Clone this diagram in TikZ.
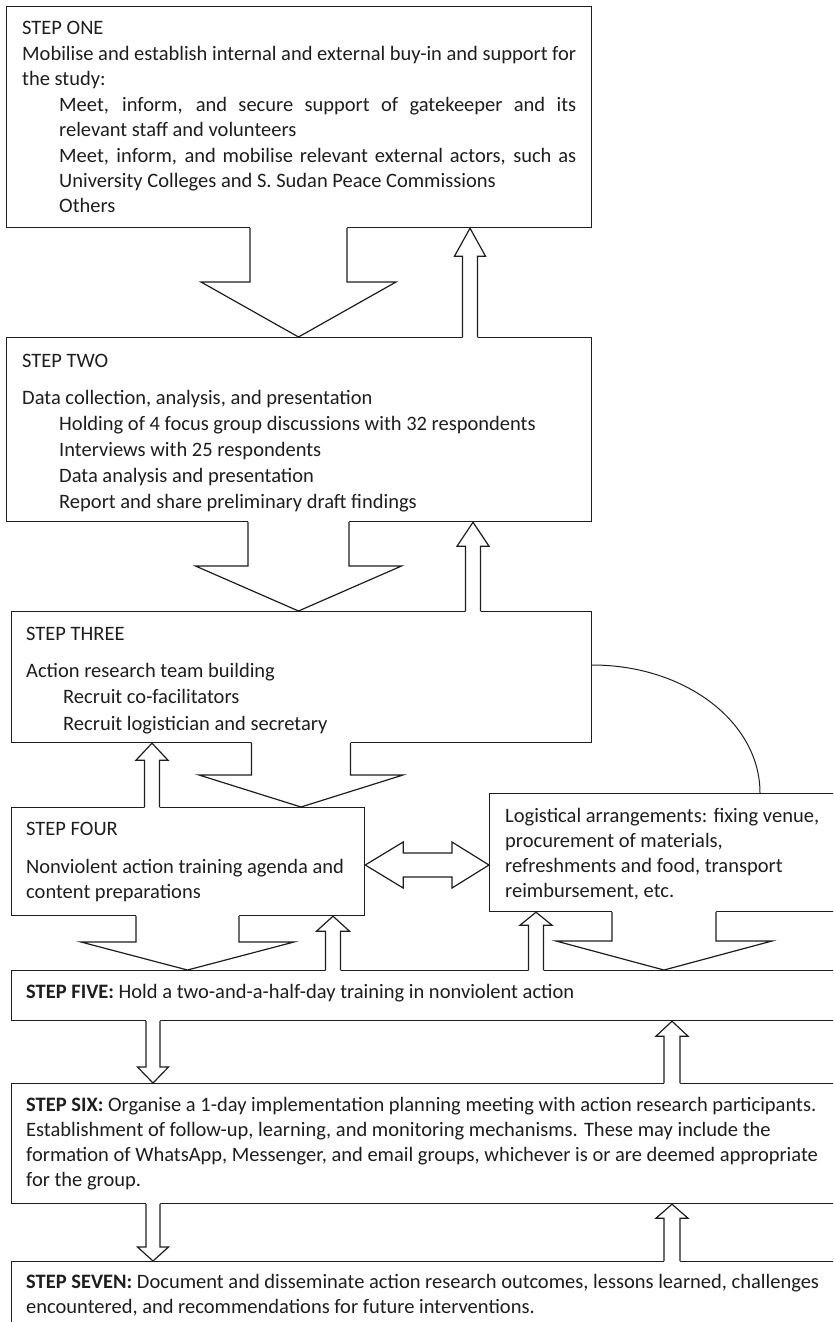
\documentclass[tikz,border=0pt]{standalone}
\usepackage{fontspec}
\setmainfont{Carlito}
\usetikzlibrary{calc}
\definecolor{ink}{RGB}{30,30,30}
\tikzset{
  box/.style={draw=ink, line width=1.2pt, inner sep=0pt, anchor=north west},
  blk/.style={draw=ink, line width=1.2pt, line join=miter},
  txt/.style={inner sep=0pt, anchor=base west, text=ink},
  link/.style={draw=ink, line width=1pt},
}
% text block: width, baselineskip, content
\newcommand\tb[3]{\parbox[t]{#1}{\fontsize{20.5pt}{#2}\selectfont #3}}
\newcommand\ind{\hspace*{37pt}}
% downward block arrow: tail anchor, tip anchor, x, shaft half, head half, head length
\newcommand\dblk[6]{%
  \fill[white] let \p1=(#1), \p2=(#2) in
    (#3pt-#4pt,\y1+1pt) -- (#3pt-#4pt,\y2+#6pt) -- (#3pt-#5pt,\y2+#6pt) -- (#3pt,\y2)
    -- (#3pt+#5pt,\y2+#6pt) -- (#3pt+#4pt,\y2+#6pt) -- (#3pt+#4pt,\y1+1pt) -- cycle;
  \draw[blk] let \p1=(#1), \p2=(#2) in
    (#3pt-#4pt,\y1) -- (#3pt-#4pt,\y2+#6pt) -- (#3pt-#5pt,\y2+#6pt) -- (#3pt,\y2)
    -- (#3pt+#5pt,\y2+#6pt) -- (#3pt+#4pt,\y2+#6pt) -- (#3pt+#4pt,\y1);}
% upward block arrow
\newcommand\ublk[6]{%
  \fill[white] let \p1=(#1), \p2=(#2) in
    (#3pt-#4pt,\y1-1pt) -- (#3pt-#4pt,\y2-#6pt) -- (#3pt-#5pt,\y2-#6pt) -- (#3pt,\y2)
    -- (#3pt+#5pt,\y2-#6pt) -- (#3pt+#4pt,\y2-#6pt) -- (#3pt+#4pt,\y1-1pt) -- cycle;
  \draw[blk] let \p1=(#1), \p2=(#2) in
    (#3pt-#4pt,\y1) -- (#3pt-#4pt,\y2-#6pt) -- (#3pt-#5pt,\y2-#6pt) -- (#3pt,\y2)
    -- (#3pt+#5pt,\y2-#6pt) -- (#3pt+#4pt,\y2-#6pt) -- (#3pt+#4pt,\y1);}
\begin{document}
\begin{tikzpicture}[x=1pt,y=-1pt]
\useasboundingbox[fill=white] (0,0) rectangle (833,1322);
\clip (0,0) rectangle (833,1322);

% boxes
\node[box, minimum width=585pt, minimum height=221pt] (b1) at (6,6) {};
\node[box, minimum width=585pt, minimum height=184pt] (b2) at (6,337) {};
\node[box, minimum width=580pt, minimum height=131pt] (b3) at (11,611) {};
\node[box, minimum width=353pt, minimum height=108pt] (b4) at (11,807) {};
\node[box, minimum width=360pt, minimum height=118pt] (blog) at (489,793) {};
\node[box, minimum width=840pt, minimum height=50pt] (b5) at (11,970) {};
\node[box, minimum width=840pt, minimum height=120pt] (b6) at (11,1083) {};
\node[box, minimum width=840pt, minimum height=80pt] (b7) at (11,1261) {};

% texts
\node[txt] (t1) at (22,35) {\tb{560pt}{25.4pt}{%
STEP ONE\\
\makebox[554pt][s]{Mobilise and establish internal and external buy-in and support for}\\
the study:\\
\ind\makebox[517pt][s]{Meet, inform, and secure support of gatekeeper and its}\\
\ind relevant staff and volunteers\\
\ind\makebox[517pt][s]{Meet, inform, and mobilise relevant external actors, such as}\\
\ind University Colleges and S. Sudan Peace Commissions\\
\ind Others}};

\node[txt] (t2) at (22,367) {\tb{560pt}{26pt}{%
STEP TWO\\[11pt]
Data collection, analysis, and presentation\\
\ind Holding of 4 focus group discussions with 32 respondents\\
\ind Interviews with 25 respondents\\
\ind Data analysis and presentation\\
\ind Report and share preliminary draft findings}};

\node[txt] (t3) at (26,640) {\tb{550pt}{26.5pt}{%
STEP THREE\\[10.5pt]
Action research team building\\
\ind Recruit co-facilitators\\
\ind Recruit logistician and secretary}};

\node[txt] (t4) at (26,835) {\tb{335pt}{25pt}{%
STEP FOUR\\[13pt]
Nonviolent action training agenda and\\
content preparations}};

\node[txt] (tlog) at (505,822) {\tb{320pt}{25pt}{%
Logistical arrangements: fixing venue,\\
procurement of materials,\\
refreshments and food, transport\\
reimbursement, etc.}};

\node[txt] (t5) at (26,998) {\tb{800pt}{25pt}{%
\textbf{STEP FIVE:} Hold a two-and-a-half-day training in nonviolent action}};

\node[txt] (t6) at (26,1111) {\tb{800pt}{25pt}{%
\textbf{STEP SIX:} Organise a 1-day implementation planning meeting with action research participants.\\
Establishment of follow-up, learning, and monitoring mechanisms. These may include the\\
formation of WhatsApp, Messenger, and email groups, whichever is or are deemed appropriate\\
for the group.}};

\node[txt] (t7) at (26,1288) {\tb{800pt}{25pt}{%
\textbf{STEP SEVEN:} Document and disseminate action research outcomes, lessons learned, challenges\\
encountered, and recommendations for future interventions.}};

% block arrows
\dblk{b1.south}{b2.north}{298.5}{48.5}{97.5}{55}
\ublk{b2.north}{b1.south}{470}{7.5}{15.5}{28}
\dblk{b2.south}{b3.north}{298.5}{50.5}{103}{45}
\ublk{b3.north}{b2.south}{473}{7.5}{16}{24}
\dblk{b3.south}{b4.north}{301}{49.5}{102}{32}
\ublk{b4.north}{b3.south}{152}{7.5}{16}{17}
\dblk{b4.south}{b5.north}{187.5}{51.5}{106.5}{28}
\ublk{b5.north}{b4.south}{333}{7.5}{16.5}{15}
\ublk{b5.north}{blog.south}{536}{7.5}{16}{13}
\dblk{blog.south}{b5.north}{664}{52}{108}{29}
\dblk{b5.south}{b6.north}{153}{7}{15.5}{16}
\ublk{b6.north}{b5.south}{672}{8}{16}{15}
\dblk{b6.south}{b7.north}{153}{7}{15.5}{14}
\ublk{b7.north}{b6.south}{672}{8}{16}{14}

% double arrow between step four and logistics
\filldraw[blk, fill=white] let \p1=(b4.east), \p2=(blog.west) in
  (\x1,-865pt) -- (\x1+38pt,-842pt) -- (\x1+38pt,-853pt) -- (\x2-37pt,-853pt)
  -- (\x2-37pt,-842pt) -- (\x2,-865pt) -- (\x2-37pt,-888pt) -- (\x2-37pt,-877pt)
  -- (\x1+38pt,-877pt) -- (\x1+38pt,-888pt) -- cycle;

% curved link from step three to logistics
\draw[link] ($(b3.north east)+(0,54)$) .. controls +(93,0) and +(0,-71) .. ($(blog.north west)+(271,0)$);
\end{tikzpicture}
\end{document}
